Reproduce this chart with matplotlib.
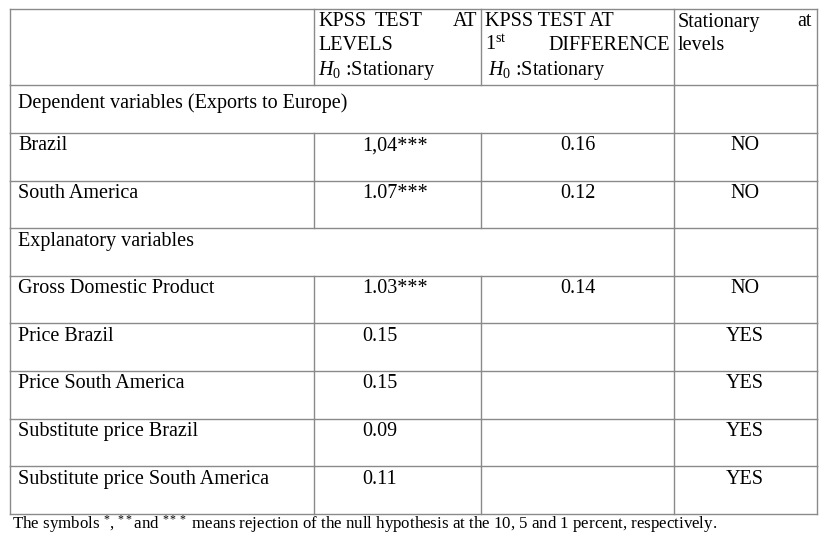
import matplotlib
matplotlib.use("Agg")
import matplotlib.pyplot as plt

plt.rcParams['font.family'] = ['Liberation Serif', 'DejaVu Serif']
plt.rcParams['mathtext.fontset'] = 'custom'
plt.rcParams['mathtext.rm'] = 'Liberation Serif'
plt.rcParams['mathtext.it'] = 'Liberation Serif:italic'

row_labels = ["Dependent variables (Exports to Europe)", "Brazil", "South America",
              "Explanatory variables", "Gross Domestic Product", "Price Brazil",
              "Price South America", "Substitute price Brazil",
              "Substitute price South America"]
levels = ["", "1,04***", "1.07***", "", "1.03***", "0.15", "0.15", "0.09", "0.11"]
first_diff = ["", "0.16", "0.12", "", "0.14", "", "", "", ""]
stationary = ["", "NO", "NO", "", "NO", "YES", "YES", "YES", "YES"]

W, H = 830, 541
fig = plt.figure(figsize=(W/100, H/100), dpi=100)
ax = fig.add_axes([0, 0, 1, 1])
ax.set_xlim(0, W); ax.set_ylim(H, 0); ax.axis('off')

cols = [10, 314, 481, 674, 817]
rows = [9, 85, 133] + [133 + 47.6*i for i in range(1, 8)] + [514]
lc = '#8a8a8a'
for y in rows:
    ax.plot([cols[0], cols[-1]], [y, y], color=lc, lw=1)
for r in range(len(rows)-1):
    y0, y1 = rows[r], rows[r+1]
    for j, x in enumerate(cols):
        if r in (1, 4) and j in (1, 2):
            continue
        ax.plot([x, x], [y0, y1], color=lc, lw=1)

fs = 14.5
kw = dict(fontsize=fs, va='center', color='black')
# header
ax.text(318, 22, "KPSS", ha='left', **kw)
ax.text(399, 22, "TEST", ha='center', **kw)
ax.text(477, 22, "AT", ha='right', **kw)
ax.text(318, 45, "LEVELS", ha='left', **kw)
ax.text(318, 70, r"$H_0$ :Stationary", ha='left', **kw)
ax.text(485, 22, "KPSS TEST AT", ha='left', **kw)
ax.text(485, 45, r"1$^{\rm st}$", ha='left', **kw)
ax.text(670, 45, "DIFFERENCE", ha='right', **kw)
ax.text(488, 70, r"$H_0$ :Stationary", ha='left', **kw)
ax.text(678, 22, "Stationary", ha='left', **kw)
ax.text(812, 22, "at", ha='right', **kw)
ax.text(678, 45, "levels", ha='left', **kw)

for i, lab in enumerate(row_labels):
    y = rows[i+1] + (18 if i == 0 else 13)
    ax.text(18, y, lab, ha='left', **kw)
    if levels[i]:
        ax.text(362, y, levels[i], ha='left', **kw)
    if first_diff[i]:
        ax.text(578, y, first_diff[i], ha='center', **kw)
    if stationary[i]:
        ax.text(745, y, stationary[i], ha='center', **kw)

ax.text(12, 524, r"The symbols $^{*}$, $^{**}$and $^{***}$ means rejection of the null hypothesis at the 10, 5 and 1 percent, respectively.",
        ha='left', va='center', fontsize=12.2)

fig.savefig("out.png", dpi=100)
